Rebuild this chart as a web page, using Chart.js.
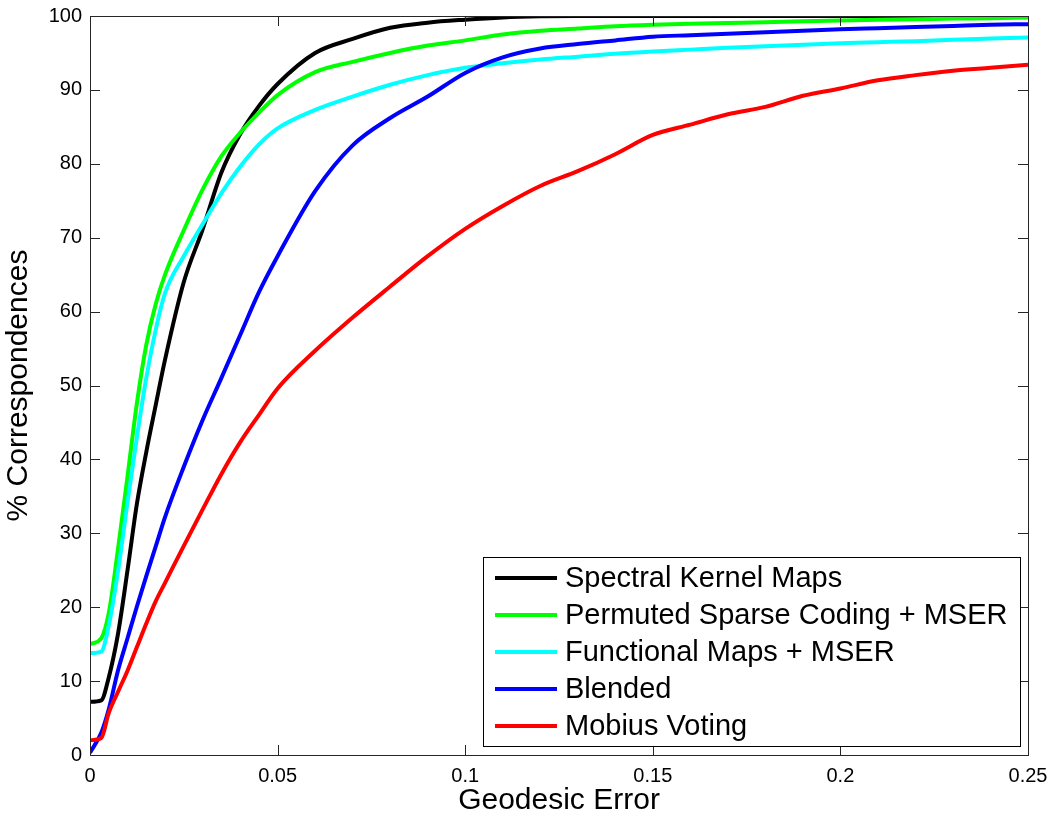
<!DOCTYPE html>
<html>
<head>
<meta charset="utf-8">
<title>Geodesic Error vs Correspondences</title>
<script src="https://cdn.jsdelivr.net/npm/chart.js@4/dist/chart.umd.min.js"></script>
<style>
  html, body { margin: 0; padding: 0; background: #fff; }
  #wrap { width: 1051px; height: 816px; }
</style>
</head>
<body>
<div id="wrap"><canvas id="cdf" width="1051" height="816"></canvas></div>
<script>
// geodesic error grid (shared by all curves)
const errors = [0, 0.003, 0.005, 0.0075, 0.01, 0.0125, 0.015, 0.0175, 0.02, 0.025,
  0.03, 0.035, 0.04, 0.045, 0.05, 0.06, 0.07, 0.08, 0.09, 0.1,
  0.11, 0.12, 0.13, 0.14, 0.15, 0.16, 0.17, 0.18, 0.19, 0.2,
  0.21, 0.22, 0.23, 0.24, 0.25];

// % correspondences
const spectralKernel = [7.2, 7.4, 10.5, 16.5, 25, 34, 41, 47.3, 53.5, 64,
  71.1, 78.8, 84, 87.8, 90.8, 95, 96.9, 98.4, 99.1, 99.5,
  99.8, 99.95, 100, 100, 100, 100, 100, 100, 100, 100,
  100, 100, 100, 100, 100];
const permutedSparse = [15, 15.8, 19.2, 28, 37.7, 47.6, 55.5, 61, 65, 71,
  76.5, 81, 84.2, 86.9, 89.3, 92.4, 93.8, 95, 96, 96.7,
  97.5, 98, 98.3, 98.6, 98.8, 98.95, 99.05, 99.15, 99.3, 99.4,
  99.5, 99.55, 99.65, 99.7, 99.8];
const functionalMaps = [13.8, 14, 17.5, 25, 34.2, 43, 51, 57.5, 62.5, 67.5,
  71.8, 76, 79.6, 82.6, 84.8, 87.3, 89.1, 90.7, 92, 93,
  93.6, 94.1, 94.5, 94.9, 95.2, 95.45, 95.7, 95.9, 96.1, 96.3,
  96.45, 96.6, 96.8, 96.95, 97.1];
const blended = [0.3, 3, 6.2, 11.5, 15.8, 20.1, 24.2, 28.2, 32.2, 39,
  45.3, 51, 56.8, 62.6, 67.5, 76.3, 82.5, 86.2, 89.1, 92.3,
  94.4, 95.6, 96.2, 96.7, 97.2, 97.4, 97.6, 97.8, 98, 98.2,
  98.35, 98.5, 98.65, 98.8, 98.9];
const mobiusVoting = [2, 2.3, 5.7, 8.6, 11.4, 14.6, 17.8, 20.8, 23.3, 28.3,
  33.2, 38, 42.3, 46, 49.6, 54.7, 59.2, 63.4, 67.5, 71.2,
  74.3, 77, 79, 81.3, 83.9, 85.3, 86.7, 87.7, 89.2, 90.2,
  91.3, 92, 92.6, 93, 93.4];

const seriesNames = ["Spectral Kernel Maps", "Permuted Sparse Coding + MSER",
  "Functional Maps + MSER", "Blended", "Mobius Voting"];
const seriesColors = ["#000000", "#00ff00", "#00ffff", "#0000ff", "#ff0000"];
const seriesValues = [spectralKernel, permutedSparse, functionalMaps, blended, mobiusVoting];

const xTickLabels = ["0", "0.05", "0.1", "0.15", "0.2", "0.25"];
const FONT = "'Liberation Sans', Arial, Helvetica, sans-serif";

function toPoints(vals) {
  return errors.map((e, i) => ({ x: e, y: vals[i] }));
}

// MATLAB-ish box with inward ticks on all four sides
const boxPlugin = {
  id: "box",
  afterDraw(chart) {
    const { ctx, chartArea: a, scales } = chart;
    ctx.save();
    ctx.strokeStyle = "#262626";
    ctx.lineWidth = 1;
    ctx.strokeRect(a.left + 0.5, a.top + 0.5, a.right - a.left, a.bottom - a.top);
    const len = 10;
    ctx.beginPath();
    scales.x.ticks.forEach(t => {
      const px = Math.round(scales.x.getPixelForValue(t.value)) + 0.5;
      ctx.moveTo(px, a.bottom); ctx.lineTo(px, a.bottom - len);
      ctx.moveTo(px, a.top); ctx.lineTo(px, a.top + len);
    });
    scales.y.ticks.forEach(t => {
      const py = Math.round(scales.y.getPixelForValue(t.value)) + 0.5;
      ctx.moveTo(a.left, py); ctx.lineTo(a.left + len, py);
      ctx.moveTo(a.right, py); ctx.lineTo(a.right - len, py);
    });
    ctx.stroke();
    ctx.restore();
  }
};

// legend box in the lower right of the plot
const legendPlugin = {
  id: "boxLegend",
  afterDraw(chart) {
    const { ctx, chartArea: a } = chart;
    const right = a.right - 8, bottom = a.bottom - 9;
    const left = 483, top = 557;
    ctx.save();
    ctx.fillStyle = "#fff";
    ctx.fillRect(left, top, right - left, bottom - top);
    ctx.strokeStyle = "#000";
    ctx.lineWidth = 1;
    ctx.strokeRect(left + 0.5, top + 0.5, right - left, bottom - top);
    ctx.font = "29px " + FONT;
    ctx.textBaseline = "middle";
    seriesNames.forEach((name, i) => {
      const y = top + 21 + i * 37;
      ctx.strokeStyle = seriesColors[i];
      ctx.lineWidth = 4;
      ctx.beginPath();
      ctx.moveTo(left + 12, y); ctx.lineTo(left + 74, y);
      ctx.stroke();
      ctx.fillStyle = "#000";
      ctx.fillText(name, left + 82, y + 1);
    });
    ctx.restore();
  }
};

new Chart(document.getElementById("cdf"), {
  type: "line",
  data: {
    datasets: seriesNames.map((name, i) => ({
      label: name,
      data: toPoints(seriesValues[i]),
      borderColor: seriesColors[i],
      borderWidth: 4,
      pointRadius: 0,
      fill: false,
      cubicInterpolationMode: "monotone",
      order: seriesNames.length - i
    }))
  },
  options: {
    responsive: false,
    animation: false,
    devicePixelRatio: 1,
    layout: { padding: { top: 16, right: 23, left: 0, bottom: 0 } },
    plugins: { legend: { display: false }, tooltip: { enabled: false } },
    scales: {
      x: {
        type: "linear",
        min: 0, max: 0.25,
        afterFit: s => { s.height = 61; s.paddingLeft = 0; s.paddingRight = 0; },
        grid: { display: false, drawTicks: false },
        border: { display: false },
        ticks: {
          stepSize: 0.05,
          autoSkip: false,
          maxRotation: 0,
          padding: 9,
          color: "#000",
          font: { family: FONT, size: 20 },
          callback: (v, i) => xTickLabels[i]
        },
        title: {
          display: true,
          text: "Geodesic Error",
          color: "#000",
          font: { family: FONT, size: 30 },
          padding: { top: 0, bottom: -3 }
        }
      },
      y: {
        min: 0, max: 100,
        afterFit: s => { s.width = 90; s.paddingTop = 0; s.paddingBottom = 0; },
        grid: { display: false, drawTicks: false },
        border: { display: false },
        ticks: {
          stepSize: 10,
          padding: 8,
          color: "#000",
          font: { family: FONT, size: 20 }
        },
        title: {
          display: true,
          text: "% Correspondences",
          color: "#000",
          font: { family: FONT, size: 30 },
          padding: { top: 1, bottom: 0 }
        }
      }
    }
  },
  plugins: [boxPlugin, legendPlugin]
});
</script>
</body>
</html>
